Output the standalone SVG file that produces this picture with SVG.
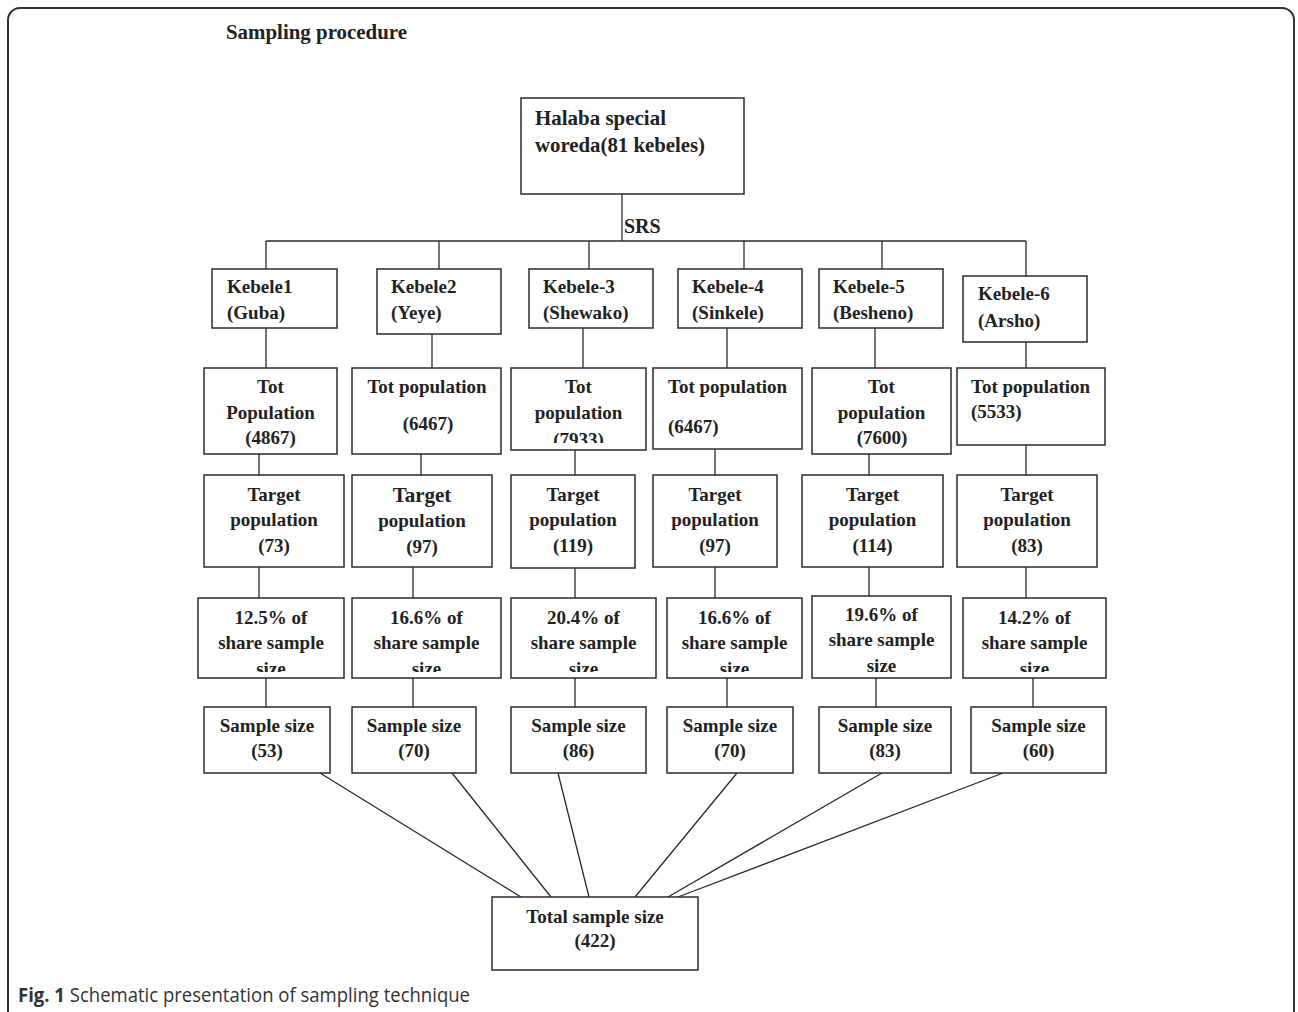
<svg xmlns="http://www.w3.org/2000/svg" width="1298" height="1012" viewBox="0 0 1298 1012">
<style>
.bx{fill:#fff;stroke:#2b2b2b;stroke-width:1.5}
.ln{stroke:#2b2b2b;stroke-width:1.3;fill:none}
.t{font-family:"Liberation Serif","Times New Roman",serif;font-weight:bold;font-size:19px;fill:#222}
.c{text-anchor:middle}
</style>
<defs>
<clipPath id="clipShare" clipPathUnits="userSpaceOnUse"><rect x="0" y="0" width="1298" height="672"/></clipPath>
<clipPath id="clipTot3" clipPathUnits="userSpaceOnUse"><rect x="0" y="0" width="1298" height="443"/></clipPath>
</defs>
<rect width="1298" height="1012" fill="#fff"/>
<path d="M8,1012 V20 A12,12 0 0 1 20,8 H1282 A12,12 0 0 1 1294,20 V1012" fill="none" stroke="#333" stroke-width="2"/>
<text class="t" x="226" y="39" style="font-size:20px" textLength="181" lengthAdjust="spacingAndGlyphs">Sampling procedure</text>

<g id="connectors">
<path class="ln" d="M622,194 V241 M266,241 H1026 M266,241 V269 M439,241 V269 M589,241 V269 M744,241 V269 M882,241 V269 M1026,241 V276"/>
<path class="ln" d="M266,328 V368 M432,334 V368 M583,328 V368 M727,328 V368 M875,328 V368 M1026,342 V368"/>
<path class="ln" d="M259,454 V475 M421,454 V475 M575,450 V475 M715,449 V475 M869,454 V475 M1026,445 V475"/>
<path class="ln" d="M259,567 V598 M413,567 V598 M575,568 V598 M715,567 V598 M869,567 V596 M1026,567 V598"/>
<path class="ln" d="M266,678 V707 M413,678 V707 M575,678 V707 M727,678 V707 M876,678 V707 M1033,678 V707"/>
<path class="ln" d="M320,773 L521,897 M452,773 L551,897 M558,773 L589,897 M737,773 L635,897 M882,773 L668,897 M1003,773 L678,897"/>
<text class="t" x="624" y="233" style="font-size:20px">SRS</text>
</g>

<g id="halaba">
<rect class="bx" x="521" y="98" width="223" height="96"/>
<text class="t" x="535" y="125" style="font-size:20px" textLength="131" lengthAdjust="spacingAndGlyphs">Halaba special</text>
<text class="t" x="535" y="152" style="font-size:20px" textLength="170" lengthAdjust="spacingAndGlyphs">woreda(81 kebeles)</text>
</g>

<g id="kebele1"><rect class="bx" x="212" y="269" width="125" height="59"/>
<text class="t" x="227" y="293">Kebele1</text><text class="t" x="227" y="319">(Guba)</text></g>
<g id="kebele2"><rect class="bx" x="377" y="269" width="124" height="65"/>
<text class="t" x="391" y="293">Kebele2</text><text class="t" x="391" y="319">(Yeye)</text></g>
<g id="kebele3"><rect class="bx" x="529" y="269" width="124" height="59"/>
<text class="t" x="543" y="293">Kebele-3</text><text class="t" x="543" y="319">(Shewako)</text></g>
<g id="kebele4"><rect class="bx" x="678" y="269" width="124" height="59"/>
<text class="t" x="692" y="293">Kebele-4</text><text class="t" x="692" y="319">(Sinkele)</text></g>
<g id="kebele5"><rect class="bx" x="819" y="269" width="124" height="59"/>
<text class="t" x="833" y="293">Kebele-5</text><text class="t" x="833" y="319">(Besheno)</text></g>
<g id="kebele6"><rect class="bx" x="963" y="276" width="124" height="66"/>
<text class="t" x="978" y="300">Kebele-6</text><text class="t" x="978" y="327">(Arsho)</text></g>

<g id="tot1"><rect class="bx" x="204" y="368" width="133" height="86"/>
<text class="t c" x="270.5" y="393">Tot</text><text class="t c" x="270.5" y="419">Population</text><text class="t c" x="270.5" y="444">(4867)</text></g>
<g id="tot2"><rect class="bx" x="352" y="368" width="149" height="86"/>
<text class="t c" x="427" y="393">Tot population</text><text class="t c" x="428" y="430">(6467)</text></g>
<g id="tot3"><rect class="bx" x="511" y="368" width="135" height="82"/>
<text class="t c" x="578.5" y="393">Tot</text><text class="t c" x="578.5" y="419">population</text><text class="t c" x="578.5" y="446" clip-path="url(#clipTot3)">(7933)</text></g>
<g id="tot4"><rect class="bx" x="653" y="368" width="149" height="81"/>
<text class="t" x="668" y="393">Tot population</text><text class="t" x="668" y="433">(6467)</text></g>
<g id="tot5"><rect class="bx" x="812" y="368" width="139" height="86"/>
<text class="t c" x="881.5" y="393">Tot</text><text class="t c" x="881.5" y="419">population</text><text class="t c" x="882" y="444">(7600)</text></g>
<g id="tot6"><rect class="bx" x="957" y="368" width="148" height="77"/>
<text class="t" x="971" y="393">Tot population</text><text class="t" x="971" y="418">(5533)</text></g>

<g id="target1"><rect class="bx" x="204" y="475" width="140" height="92"/>
<text class="t c" x="274" y="501">Target</text><text class="t c" x="274" y="526">population</text><text class="t c" x="274" y="552">(73)</text></g>
<g id="target2"><rect class="bx" x="352" y="475" width="140" height="92"/>
<text class="t c" x="422" y="502" style="font-size:21px">Target</text><text class="t c" x="422" y="527">population</text><text class="t c" x="422" y="553">(97)</text></g>
<g id="target3"><rect class="bx" x="511" y="475" width="124" height="93"/>
<text class="t c" x="573" y="501">Target</text><text class="t c" x="573" y="526">population</text><text class="t c" x="573" y="552">(119)</text></g>
<g id="target4"><rect class="bx" x="653" y="475" width="124" height="92"/>
<text class="t c" x="715" y="501">Target</text><text class="t c" x="715" y="526">population</text><text class="t c" x="715" y="552">(97)</text></g>
<g id="target5"><rect class="bx" x="802" y="475" width="141" height="92"/>
<text class="t c" x="872.5" y="501">Target</text><text class="t c" x="872.5" y="526">population</text><text class="t c" x="872.5" y="552">(114)</text></g>
<g id="target6"><rect class="bx" x="957" y="475" width="140" height="92"/>
<text class="t c" x="1027" y="501">Target</text><text class="t c" x="1027" y="526">population</text><text class="t c" x="1027" y="552">(83)</text></g>

<g id="share1"><rect class="bx" x="198" y="598" width="146" height="80"/>
<text class="t c" x="271" y="624">12.5% of</text><text class="t c" x="271" y="649">share sample</text><text class="t c" x="271" y="675" clip-path="url(#clipShare)">size</text></g>
<g id="share2"><rect class="bx" x="352" y="598" width="149" height="80"/>
<text class="t c" x="426.5" y="624">16.6% of</text><text class="t c" x="426.5" y="649">share sample</text><text class="t c" x="426.5" y="675" clip-path="url(#clipShare)">size</text></g>
<g id="share3"><rect class="bx" x="511" y="598" width="145" height="80"/>
<text class="t c" x="583.5" y="624">20.4% of</text><text class="t c" x="583.5" y="649">share sample</text><text class="t c" x="583.5" y="675" clip-path="url(#clipShare)">size</text></g>
<g id="share4"><rect class="bx" x="667" y="598" width="135" height="80"/>
<text class="t c" x="734.5" y="624">16.6% of</text><text class="t c" x="734.5" y="649">share sample</text><text class="t c" x="734.5" y="675" clip-path="url(#clipShare)">size</text></g>
<g id="share5"><rect class="bx" x="812" y="596" width="139" height="82"/>
<text class="t c" x="881.5" y="621">19.6% of</text><text class="t c" x="881.5" y="646">share sample</text><text class="t c" x="881.5" y="672">size</text></g>
<g id="share6"><rect class="bx" x="963" y="598" width="143" height="80"/>
<text class="t c" x="1034.5" y="624">14.2% of</text><text class="t c" x="1034.5" y="649">share sample</text><text class="t c" x="1034.5" y="675" clip-path="url(#clipShare)">size</text></g>

<g id="sample1"><rect class="bx" x="204" y="707" width="126" height="66"/>
<text class="t c" x="267" y="732">Sample size</text><text class="t c" x="267" y="757">(53)</text></g>
<g id="sample2"><rect class="bx" x="352" y="707" width="124" height="66"/>
<text class="t c" x="414" y="732">Sample size</text><text class="t c" x="414" y="757">(70)</text></g>
<g id="sample3"><rect class="bx" x="511" y="707" width="135" height="66"/>
<text class="t c" x="578.5" y="732">Sample size</text><text class="t c" x="578.5" y="757">(86)</text></g>
<g id="sample4"><rect class="bx" x="667" y="707" width="126" height="66"/>
<text class="t c" x="730" y="732">Sample size</text><text class="t c" x="730" y="757">(70)</text></g>
<g id="sample5"><rect class="bx" x="819" y="707" width="132" height="66"/>
<text class="t c" x="885" y="732">Sample size</text><text class="t c" x="885" y="757">(83)</text></g>
<g id="sample6"><rect class="bx" x="971" y="707" width="135" height="66"/>
<text class="t c" x="1038.5" y="732">Sample size</text><text class="t c" x="1038.5" y="757">(60)</text></g>

<g id="total"><rect class="bx" x="492" y="897" width="206" height="73"/>
<text class="t c" x="595" y="923">Total sample size</text><text class="t c" x="595" y="947">(422)</text></g>

<text x="18" y="1002" font-family="'Open Sans','Noto Sans','Liberation Sans',sans-serif" font-size="20" fill="#333" textLength="452" lengthAdjust="spacingAndGlyphs"><tspan font-weight="bold">Fig. 1</tspan> Schematic presentation of sampling technique</text>
</svg>
